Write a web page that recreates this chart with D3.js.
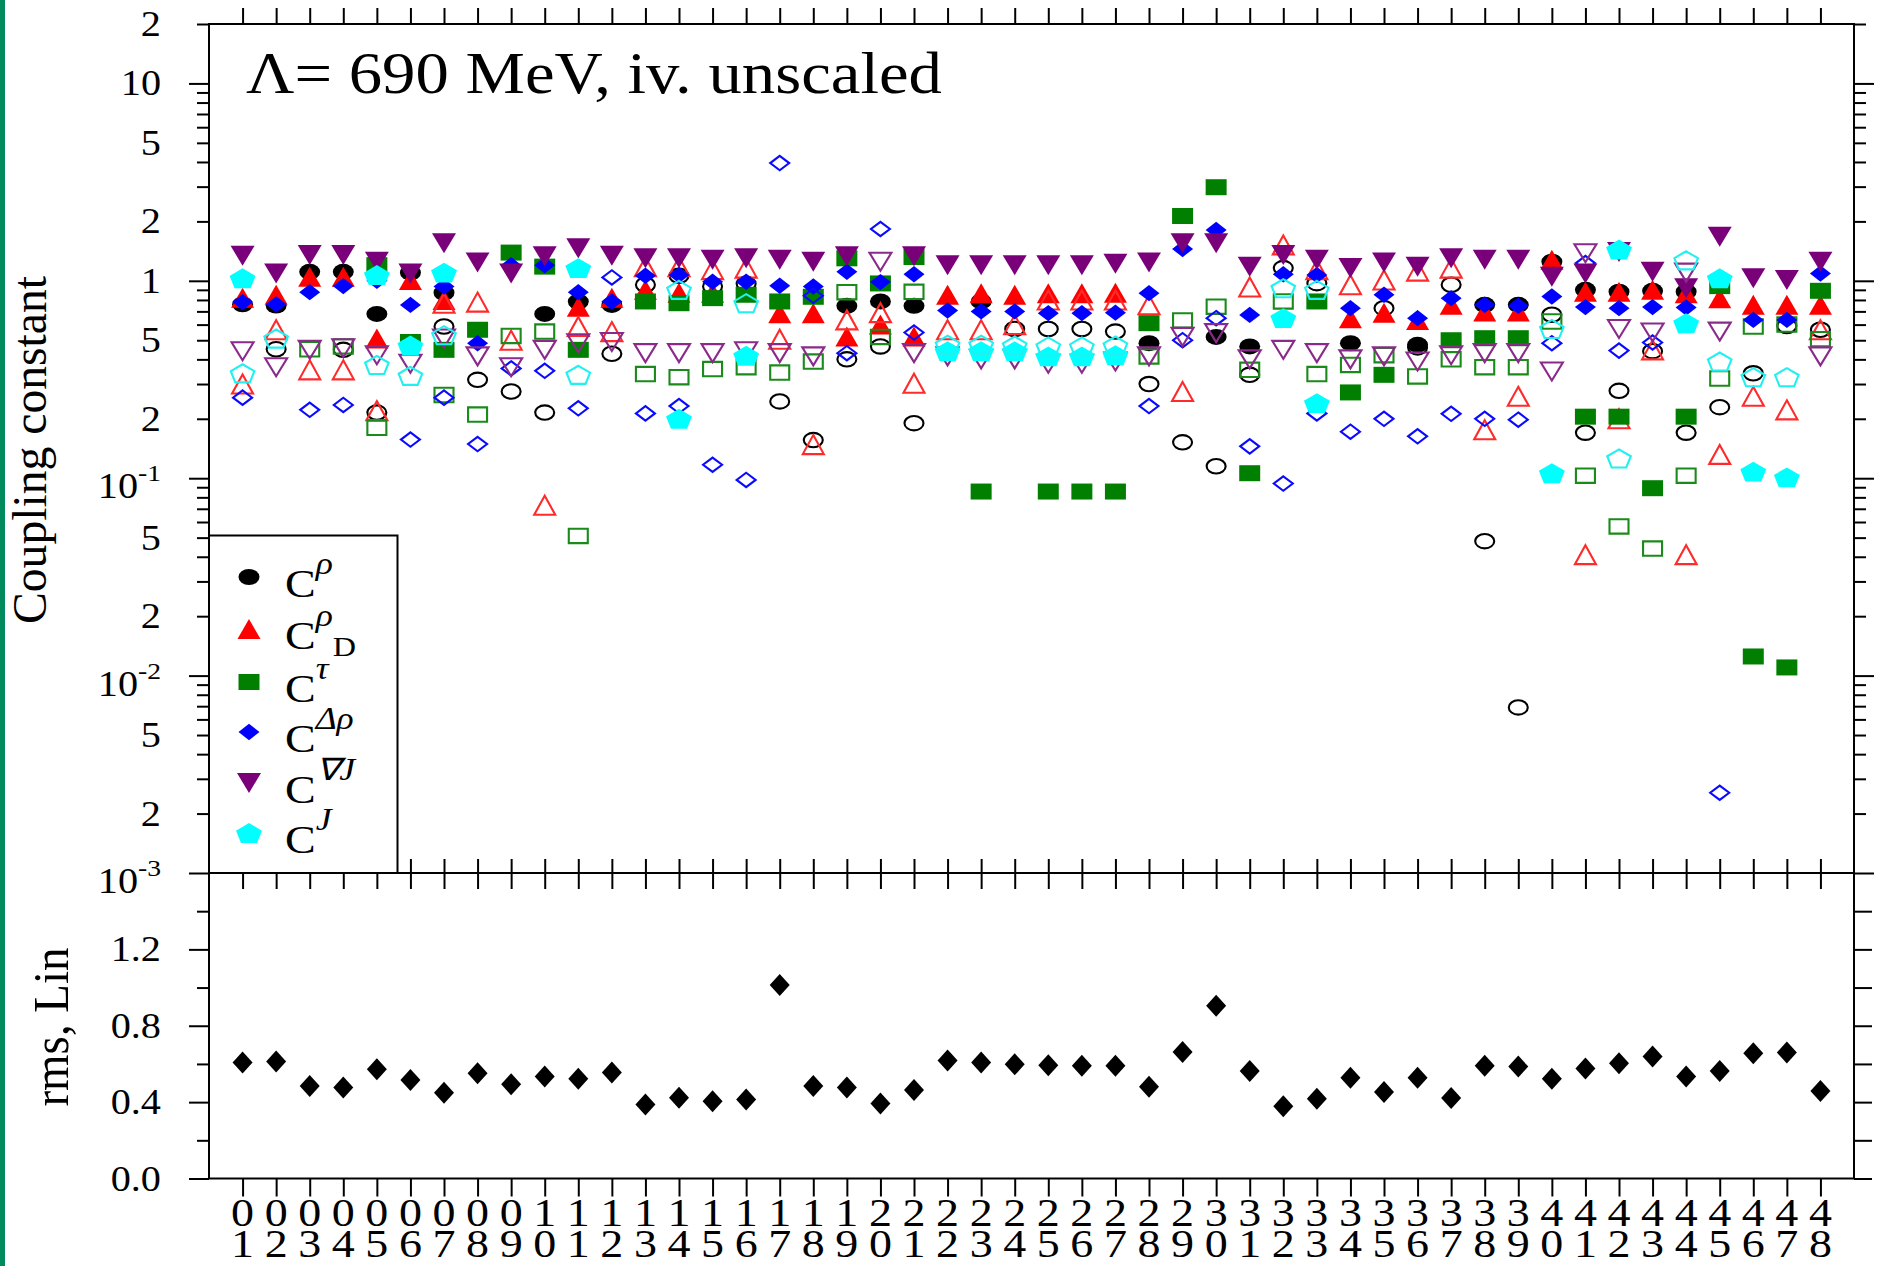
<!DOCTYPE html>
<html><head><meta charset="utf-8">
<script src="https://cdn.jsdelivr.net/npm/d3@7"></script>
<style>html,body{margin:0;padding:0;background:#fff;} svg{display:block;}</style>
</head><body>
<svg id="chart" width="1881" height="1266"></svg>
<script>
// ---------------- data ----------------
const categories = d3.range(1, 49).map(d => String(d).padStart(2, "0"));

const rhoFilled = [0.76,0.75,1.11,1.11,0.68,1.1,0.87,null,null,0.68,
 0.785,0.755,null,null,null,null,null,null,0.747,0.786,
 0.747,null,0.786,null,null,null,null,0.483,null,0.52,
 0.465,null,null,0.483,null,0.474,null,0.756,0.756,1.25,
 0.9,0.88,0.89,0.88,null,null,null,null];
const rhoOpen = [null,0.45,null,0.447,0.215,null,0.587,0.315,0.275,0.215,
 null,0.427,0.955,1.06,0.936,0.965,0.245,0.156,0.4,0.465,
 0.19,null,null,0.57,0.57,0.57,0.553,0.3,0.152,0.115,
 0.334,1.16,0.973,null,0.727,0.46,0.955,0.048,0.0069,0.673,
 0.17,0.277,0.44,0.17,0.229,0.34,0.59,0.565];
const rhoDFilled = [0.82,0.85,1.05,1.05,0.51,1.01,0.8,null,null,null,
 0.74,0.82,0.9,0.87,0.87,null,0.686,0.686,0.522,0.6,
 0.522,0.85,0.866,0.85,0.866,0.866,0.87,null,null,null,
 null,null,null,0.647,0.69,0.634,0.756,0.7,0.7,1.28,
 0.88,0.88,0.9,0.866,0.817,0.756,0.756,0.756];
const rhoDOpen = [0.30,0.565,0.354,0.354,0.22,null,0.77,0.78,0.5,0.073,
 0.587,0.553,1.18,1.18,1.14,1.16,0.506,0.148,0.634,0.69,
 0.303,0.565,0.565,0.6,0.8,0.8,0.8,0.756,0.275,null,
 0.93,1.52,1.14,0.955,1.01,1.12,1.16,0.176,0.26,null,
 0.041,0.2,0.447,0.041,0.132,0.26,0.222,0.565];
const tauFilled = [null,null,null,null,1.2,0.49,0.447,0.565,1.39,1.18,
 0.447,null,0.786,0.77,0.817,0.85,0.786,0.83,1.3,0.97,
 1.32,null,0.0856,null,0.0856,0.0856,0.0856,0.61,2.13,2.98,
 0.106,null,0.786,0.272,0.334,null,0.5,0.512,0.512,null,
 0.205,0.205,0.089,0.205,0.94,0.0125,0.011,0.89];
const tauOpen = [null,null,0.45,0.465,0.18,null,0.264,0.21,0.526,0.553,
 0.051,null,0.337,0.325,0.357,0.365,0.343,0.39,0.876,0.52,
 0.88,null,null,null,null,null,null,0.414,0.63,0.74,
 0.354,0.786,0.337,0.375,0.42,0.328,0.4,0.365,0.365,0.622,
 0.103,0.057,0.044,0.103,0.32,0.587,0.6,0.506];
const drhoFilled = [0.78,0.76,0.876,0.94,1.0,0.755,0.936,0.483,1.2,1.2,
 0.876,0.785,1.06,1.07,0.99,0.99,0.944,0.936,1.11,0.985,
 1.08,0.707,0.7,0.7,0.686,0.686,0.69,0.866,1.45,1.81,
 0.672,1.08,1.07,0.727,0.85,0.647,0.817,0.756,0.747,0.833,
 0.736,0.727,0.736,0.733,null,0.634,0.634,1.09];
const drhoOpen = [0.256,null,0.222,0.235,null,0.157,0.256,0.149,0.36,0.35,
 0.226,1.04,0.213,0.232,0.117,0.098,3.95,0.84,0.43,1.83,
 0.547,null,null,null,null,null,null,0.232,0.5,0.647,
 0.145,0.094,0.213,0.172,0.2,0.163,0.212,0.2,0.198,0.483,
 1.23,0.443,0.487,null,0.00255,null,null,null];
const nablaJFilled = [1.34,1.09,1.35,1.35,1.25,1.09,1.55,1.24,1.09,1.33,
 1.46,1.34,1.3,1.3,1.28,1.3,1.28,1.25,1.33,null,
 1.33,1.2,1.2,1.2,1.2,1.2,1.22,1.24,1.55,1.55,
 1.18,1.35,1.28,1.16,1.24,1.18,1.3,1.28,1.28,1.05,
 1.09,1.4,1.11,0.918,1.67,1.03,1.01,1.25];
const nablaJOpen = [0.44,0.365,0.447,0.455,0.42,0.38,0.51,0.414,0.365,0.447,
 0.483,0.49,0.43,0.43,0.43,0.44,0.43,0.414,null,1.25,
 0.43,0.414,0.4,0.4,0.38,0.38,0.39,0.414,0.52,0.543,
 0.4,0.447,0.43,0.4,0.414,0.39,0.42,0.43,0.43,0.347,
 1.38,0.57,0.547,1.1,0.553,null,null,0.414];
const jFilled = [1.03,null,null,null,1.07,0.47,1.1,null,null,null,
 1.16,null,null,0.2,null,0.417,null,null,null,null,
 null,0.44,0.44,0.44,0.414,0.414,0.42,null,null,null,
 null,0.647,0.24,null,null,null,null,null,null,0.106,
 null,1.44,null,0.61,1.03,0.108,0.101,null];
const jOpen = [0.34,0.51,null,null,0.375,0.33,0.53,null,null,null,
 0.334,null,null,0.9,null,0.77,null,null,null,null,
 null,0.474,0.474,0.47,0.465,0.465,0.47,null,null,null,
 null,0.918,0.9,null,null,null,null,null,null,0.57,
 null,0.126,null,1.27,0.39,0.325,0.325,null];
const rmsLin = [0.607,0.613,0.484,0.476,0.572,0.516,0.449,0.551,0.493,0.534,
 0.523,0.555,0.388,0.423,0.405,0.414,1.014,0.484,0.476,0.393,
 0.463,0.618,0.607,0.598,0.593,0.59,0.59,0.481,0.663,0.905,
 0.563,0.379,0.418,0.528,0.453,0.528,0.421,0.59,0.586,0.523,
 0.576,0.604,0.639,0.534,0.563,0.656,0.66,0.458];

const yTickValues = [20,10,5,2,1,0.5,0.2,0.1,0.05,0.02,0.01,0.005,0.002,0.001];
const yTickLabels = ["2","10","5","2","1","5","2","10^-1","5","2","10^-2","5","2","10^-3"];
const rmsTickValues = [0, 0.4, 0.8, 1.2];
const rmsTickLabels = ["0.0","0.4","0.8","1.2"];
const legendLabels = [["ρ",""],["ρ","D"],["τ",""],["Δρ",""],["∇J",""],["J",""]];

// ---------------- layout ----------------
const svg = d3.select("#chart");
const FONT = "'Liberation Serif','Times New Roman',serif";
const SX = 1.15;
const L = 209, R = 1854, TOP = 24, MID = 873, BOT = 1178.5;

const x = d3.scaleLinear().domain([0, 49]).range([L, R]);
const yLog = d3.scaleLog().domain([1e-3, 20]).range([MID, TOP]);
const yLin = d3.scaleLinear().domain([0, 1.6]).range([BOT, MID]);

svg.append("rect").attr("width", 1881).attr("height", 1266).attr("fill", "#fff");
svg.append("rect").attr("x", 0).attr("y", 0).attr("width", 5).attr("height", 1266).attr("fill", "#008a5e");

// ---------------- markers ----------------
function shapePath(type, s) {
  const hw = s[0], hh = s[1];
  switch (type) {
    case "circle": return `M${-hw},0A${hw},${hh} 0 1,0 ${hw},0A${hw},${hh} 0 1,0 ${-hw},0Z`;
    case "up": return `M0,${-hh}L${hw},${hh}L${-hw},${hh}Z`;
    case "down": return `M0,${hh}L${hw},${-hh}L${-hw},${-hh}Z`;
    case "square": return `M${-hw},${-hh}H${hw}V${hh}H${-hw}Z`;
    case "diamond": return `M0,${-hh}L${hw},0L0,${hh}L${-hw},0Z`;
    case "pentagon": {
      const r = hh, sx = hw, off = 0.0955 * r;
      const pts = d3.range(5).map(k => {
        const a = 2 * Math.PI * k / 5;
        return [Math.sin(a) * r * sx, -Math.cos(a) * r + off];
      });
      return "M" + pts.map(p => p.join(",")).join("L") + "Z";
    }
  }
}
const sizeFilled = {circle:[10.5,8], up:[11.5,10], down:[12,10], square:[10.5,8], diamond:[10.5,8.2], pentagon:[1.24,11]};
const sizeOpen   = {circle:[9.5,7.2], up:[10.5,9.5], down:[11,9], square:[9.5,7.2], diamond:[9.5,7.2], pentagon:[1.24,10]};

const series = [
  {data: rhoFilled,    shape:"circle",   color:"#000000", filled:true},
  {data: rhoOpen,      shape:"circle",   color:"#000000", filled:false},
  {data: rhoDFilled,   shape:"up",       color:"#ff0000", filled:true},
  {data: rhoDOpen,     shape:"up",       color:"#ff2a2a", filled:false},
  {data: tauFilled,    shape:"square",   color:"#007f00", filled:true},
  {data: tauOpen,      shape:"square",   color:"#1a8a1a", filled:false},
  {data: drhoFilled,   shape:"diamond",  color:"#0000ff", filled:true},
  {data: drhoOpen,     shape:"diamond",  color:"#0a0aff", filled:false},
  {data: nablaJFilled, shape:"down",     color:"#7a007a", filled:true},
  {data: nablaJOpen,   shape:"down",     color:"#8a2a8a", filled:false},
  {data: jFilled,      shape:"pentagon", color:"#00ffff", filled:true},
  {data: jOpen,        shape:"pentagon", color:"#22f0f0", filled:false}
];

const gData = svg.append("g");
series.forEach(s => {
  const pts = s.data.map((v, i) => ({i: i + 1, v})).filter(d => d.v != null);
  const d = shapePath(s.shape, (s.filled ? sizeFilled : sizeOpen)[s.shape]);
  gData.append("g").selectAll("path").data(pts).join("path")
    .attr("transform", p => `translate(${x(p.i)},${yLog(p.v)})`)
    .attr("d", d)
    .attr("fill", s.filled ? s.color : "none")
    .attr("stroke", s.filled ? "none" : s.color)
    .attr("stroke-width", s.filled ? 0 : 2.1);
});

// rms points
svg.append("g").selectAll("path")
  .data(rmsLin.map((v, i) => ({i: i + 1, v})))
  .join("path")
  .attr("transform", p => `translate(${x(p.i)},${yLin(p.v)})`)
  .attr("d", shapePath("diamond", [10, 11]))
  .attr("fill", "#000");

// ---------------- axes ----------------
function styleAxis(g) {
  g.select(".domain").remove();
  g.selectAll(".tick line").attr("stroke", "#000").attr("stroke-width", 2);
  g.selectAll(".tick text").remove();
}
const catTicks = d3.range(1, 49);
const minorLog = [];
for (let e = -3; e <= 1; e++) for (let m = 1; m <= 9; m++) {
  const v = m * Math.pow(10, e);
  if (v <= 20 && m !== 1) minorLog.push(v);
}
const majorLog = [0.001, 0.01, 0.1, 1, 10];

svg.append("g").attr("transform", `translate(${L},0)`).call(d3.axisLeft(yLog).tickValues(minorLog).tickSize(12)).call(styleAxis);
svg.append("g").attr("transform", `translate(${L},0)`).call(d3.axisLeft(yLog).tickValues(majorLog).tickSize(20)).call(styleAxis);
svg.append("g").attr("transform", `translate(${R},0)`).call(d3.axisRight(yLog).tickValues(minorLog).tickSize(12)).call(styleAxis);
svg.append("g").attr("transform", `translate(${R},0)`).call(d3.axisRight(yLog).tickValues(majorLog).tickSize(20)).call(styleAxis);

const rmsMinor = [0.2, 0.6, 1.0, 1.4], rmsMajor = [0, 0.4, 0.8, 1.2];
svg.append("g").attr("transform", `translate(${L},0)`).call(d3.axisLeft(yLin).tickValues(rmsMinor).tickSize(12)).call(styleAxis);
svg.append("g").attr("transform", `translate(${L},0)`).call(d3.axisLeft(yLin).tickValues(rmsMajor).tickSize(20)).call(styleAxis);
svg.append("g").attr("transform", `translate(${R},0)`).call(d3.axisRight(yLin).tickValues(rmsMinor.concat(rmsMajor)).tickSize(18)).call(styleAxis);

svg.append("g").attr("transform", `translate(0,${TOP})`).call(d3.axisTop(x).tickValues(catTicks).tickSize(16)).call(styleAxis);
svg.append("g").attr("transform", `translate(0,${MID})`).call(d3.axisBottom(x).tickValues(catTicks).tickSize(16)).call(styleAxis);
svg.append("g").attr("transform", `translate(0,${MID})`).call(d3.axisTop(x).tickValues(catTicks).tickSize(14)).call(styleAxis);
svg.append("g").attr("transform", `translate(0,${BOT})`).call(d3.axisBottom(x).tickValues(catTicks).tickSize(18)).call(styleAxis);

// frames
svg.append("rect").attr("x", L).attr("y", TOP).attr("width", R - L).attr("height", MID - TOP)
  .attr("fill", "none").attr("stroke", "#000").attr("stroke-width", 2);
svg.append("rect").attr("x", L).attr("y", MID).attr("width", R - L).attr("height", BOT - MID)
  .attr("fill", "none").attr("stroke", "#000").attr("stroke-width", 2);

// ---------------- text helpers ----------------
function stext(px, py, size, anchor) {
  return svg.append("text")
    .attr("transform", `translate(${px},${py}) scale(${SX},1)`)
    .attr("font-family", FONT).attr("font-size", size)
    .attr("text-anchor", anchor || "start").attr("fill", "#000");
}

// log axis labels
yTickValues.forEach((v, i) => {
  const lab = yTickLabels[i];
  const ty = yLog(v);
  if (lab.includes("^")) {
    const [base, exp] = lab.split("^");
    const t = stext(161, ty + 20, 35, "end");
    t.append("tspan").text(base);
    t.append("tspan").attr("font-size", 24).attr("dy", -17).text(exp);
  } else {
    stext(161, ty + 12, 35, "end").text(lab);
  }
});
// rms axis labels
rmsTickValues.forEach((v, i) => {
  stext(161, yLin(v) + 12, 35, "end").text(rmsTickLabels[i]);
});
// category labels (two stacked digits)
categories.forEach((c, i) => {
  const t = stext(x(i + 1), 1226, 40, "middle");
  t.append("tspan").attr("x", 0).text(c[0]);
  t.append("tspan").attr("x", 0).attr("dy", 31).text(c[1]);
});

// title
svg.append("text").attr("x", 246).attr("y", 93)
  .attr("font-family", FONT).attr("font-size", 60)
  .attr("textLength", 696).attr("lengthAdjust", "spacingAndGlyphs")
  .text("Λ= 690 MeV, iv. unscaled");

// axis titles
svg.append("text").attr("transform", "translate(46,450) rotate(-90)")
  .attr("font-family", FONT).attr("font-size", 48).attr("text-anchor", "middle")
  .attr("textLength", 348).attr("lengthAdjust", "spacingAndGlyphs")
  .text("Coupling constant");
svg.append("text").attr("transform", "translate(68,1027) rotate(-90)")
  .attr("font-family", FONT).attr("font-size", 50).attr("text-anchor", "middle")
  .attr("textLength", 159).attr("lengthAdjust", "spacingAndGlyphs")
  .text("rms, Lin");

// ---------------- legend ----------------
svg.append("rect").attr("x", L).attr("y", 535.5).attr("width", 397.5 - L).attr("height", MID - 535.5)
  .attr("fill", "#fff").attr("stroke", "#000").attr("stroke-width", 2);
const legendSymY = [577, 629, 682, 732, 783, 833];
const legendSeries = [series[0], series[2], series[4], series[6], series[8], series[10]];
legendSeries.forEach((s, i) => {
  svg.append("path")
    .attr("transform", `translate(249,${legendSymY[i]})`)
    .attr("d", shapePath(s.shape, sizeFilled[s.shape]))
    .attr("fill", s.color);
  const t = stext(285, legendSymY[i] + 20, 40, "start");
  t.append("tspan").text("C");
  t.append("tspan").attr("font-size", 31).attr("font-style", "italic").attr("dy", -23).text(legendLabels[i][0]);
  if (legendLabels[i][1]) {
    t.append("tspan").attr("font-size", 28).attr("font-style", "normal").attr("dy", 30).text(legendLabels[i][1]);
  }
});
</script>
</body></html>
